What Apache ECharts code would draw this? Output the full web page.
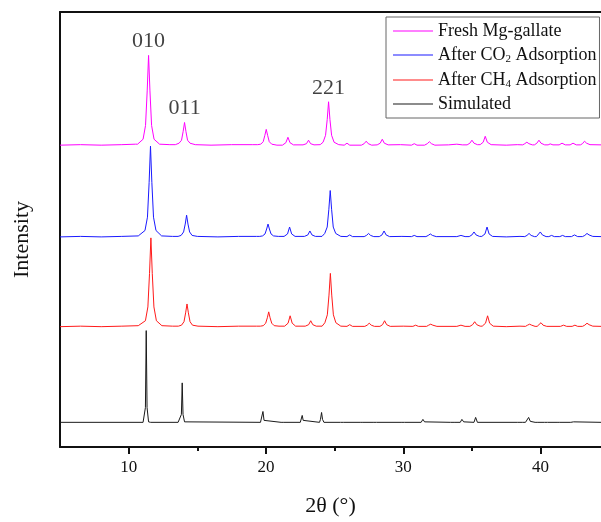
<!DOCTYPE html>
<html>
<head>
<meta charset="utf-8">
<script src="https://cdn.jsdelivr.net/npm/echarts@6/dist/echarts.min.js"></script>
<style>
  html, body { margin: 0; padding: 0; background: #fff; }
  #chart { width: 601px; height: 522px; }
</style>
</head>
<body>
<div id="chart"></div>
<script>
// XRD patterns, [2θ (°), intensity (a.u., stacked offsets included)]
const freshMgGallate = [
  [5,306],[6.5,306.5],[8,306],[9.5,306.5],[10.5,307],
  [10.65,307],[11.05,312],[11.23,326],[11.35,361],[11.45,397],[11.55,361],[11.67,326],[11.85,312],[12.25,307],
  [13.0,306.5],
  [13.4,306.5],[13.67,308],[13.85,311],[13.97,320],[14.07,329],[14.17,320],[14.29,311],[14.47,308],[14.85,306.5],
  [16,306],[17.5,306.5],[19,306.5],
  [19.4,306.5],[19.62,307],[19.8,309.5],[19.92,316],[20.02,322],[20.12,316],[20.24,309.5],[20.42,307],[20.8,306],
  [21.2,306],[21.45,308.5],[21.6,314],[21.75,308.5],[22.0,306.3],
  [22.7,306.3],[22.95,307.5],[23.1,311],[23.25,307.5],[23.5,306.3],
  [23.95,306.5],[24.16,309],[24.34,316],[24.46,332],[24.56,350],[24.66,332],[24.78,316],[24.96,309],[25.3,306.5],
  [25.7,306],[25.9,308],[26.1,306],
  [26.95,306],[27.15,307.5],[27.3,310],[27.45,307.5],[27.7,306],
  [28.1,306.3],[28.32,308],[28.47,312],[28.62,308],[28.9,306.3],
  [29.8,306.5],
  [30.6,306],[30.8,307.5],[31.0,306],
  [31.55,306],[31.75,307.5],[31.9,309.5],[32.05,307.5],[32.3,306],
  [33.3,306.3],[33.9,307],[34.3,306.3],
  [34.65,306.3],[34.85,308],[35.0,311],[35.15,308],[35.4,306.5],
  [35.6,306.5],[35.82,309],[35.97,315],[36.12,309],[36.4,306.5],
  [37.5,306],[38.3,306.5],
  [38.7,306.3],[38.85,307.5],[39.0,309],[39.15,307.5],[39.4,306.3],
  [39.55,306.3],[39.73,308],[39.88,311],[40.03,308],[40.3,306.3],
  [40.55,306.3],[40.7,307.3],[40.9,306.3],
  [41.35,306.3],[41.56,308],[41.8,306.3],
  [42.15,306.3],[42.36,308],[42.6,306.3],
  [42.9,306.3],[43.05,307.5],[43.2,310],[43.35,308],[43.6,306.5],
  [44.4,306.3]
];

const afterCO2 = [
  [5,213],[6.5,213.5],[8,213],[9.5,213.5],[10.7,214],
  [10.8,214],[11.19,219.5],[11.37,233],[11.49,268],[11.59,305],[11.69,268],[11.81,233],[11.99,219.5],[12.4,214],
  [13.2,213.5],
  [13.6,213.5],[13.82,214.5],[14.0,218],[14.12,226],[14.22,235],[14.32,226],[14.44,218],[14.62,214.5],[15.0,213.5],
  [16.5,213],[18,213.5],[19.3,213.5],
  [19.55,213.5],[19.75,214],[19.93,216],[20.05,221],[20.15,226],[20.25,221],[20.37,216],[20.55,214],[20.9,213.5],
  [21.32,213.5],[21.57,216],[21.72,223],[21.87,216],[22.12,213.5],
  [22.8,213.5],[23.05,215],[23.2,219],[23.35,215],[23.6,213.5],
  [24.08,213.5],[24.28,216.5],[24.46,223],[24.58,241],[24.68,260],[24.78,241],[24.9,223],[25.08,216.5],[25.45,213.5],
  [25.9,213.3],[26.1,215],[26.3,213.3],
  [27.15,213.3],[27.32,214.5],[27.47,216.5],[27.62,214.5],[27.85,213.3],
  [28.25,213.3],[28.45,215],[28.6,219],[28.75,215],[29.0,213.3],
  [29.9,213.5],
  [30.6,213.3],[30.8,214.5],[31.0,213.3],
  [31.65,213.3],[31.82,214.5],[31.97,216],[32.12,214.5],[32.4,213.3],
  [33.9,213.3],[34.2,214.5],[34.5,213.3],
  [34.8,213.3],[35.0,215],[35.15,218],[35.3,215],[35.55,213.5],
  [35.72,213.5],[35.95,216],[36.1,223],[36.25,216],[36.5,213.5],
  [37.5,213],[38.5,213.5],
  [38.85,213.3],[39.01,214.5],[39.16,216.5],[39.31,214.5],[39.55,213.3],
  [39.7,213.3],[39.84,215],[39.98,218],[40.13,215],[40.4,213.3],
  [40.6,213.3],[40.8,214.5],[41.0,213.3],
  [41.4,213.3],[41.6,214.5],[41.8,213.3],
  [42.25,213.3],[42.47,215],[42.7,213.3],
  [43.05,213.3],[43.22,214.5],[43.38,216.5],[43.53,215],[43.8,213.5],
  [44.4,213.3]
];

const afterCH4 = [
  [5,122],[6.5,122.5],[8,122],[9.5,122.5],[10.7,123],
  [10.82,123],[11.22,128],[11.4,142],[11.52,176],[11.62,212],[11.72,176],[11.84,142],[12.02,128],[12.42,123],
  [13.2,122.5],
  [13.62,122.5],[13.85,123.5],[14.03,127],[14.15,136],[14.25,145],[14.35,136],[14.47,127],[14.65,123.5],[15.05,122.5],
  [16.5,122],[18,122.5],[19.3,122.5],
  [19.6,122.5],[19.8,123],[19.98,125.5],[20.1,131],[20.2,137],[20.3,131],[20.42,125.5],[20.6,123],[20.95,122.5],
  [21.36,122.5],[21.61,125.5],[21.76,133],[21.91,125.5],[22.16,122.5],
  [22.86,122.5],[23.11,124],[23.26,128],[23.41,124],[23.66,122.5],
  [24.09,122.5],[24.29,126],[24.47,134],[24.59,154],[24.69,176],[24.79,154],[24.91,134],[25.09,126],[25.45,122.5],
  [25.9,122.3],[26.1,124],[26.3,122.3],
  [27.2,122.3],[27.37,123.5],[27.52,125.5],[27.67,123.5],[27.9,122.3],
  [28.3,122.3],[28.49,124],[28.64,128],[28.79,124],[29.05,122.3],
  [30.0,122.5],
  [30.7,122.3],[30.9,123.5],[31.1,122.3],
  [31.7,122.3],[31.85,123.5],[32.0,124.5],[32.15,123.5],[32.45,122.3],
  [33.9,122.3],[34.2,123.5],[34.5,122.3],
  [34.85,122.3],[35.05,124],[35.2,127],[35.35,124],[35.6,122.5],
  [35.75,122.5],[35.99,125.5],[36.14,133],[36.29,125.5],[36.55,122.5],
  [37.5,122],[38.5,122.5],
  [38.9,122.3],[39.05,123.5],[39.2,124.5],[39.35,123.5],[39.6,122.3],
  [39.75,122.3],[39.88,123.5],[40.03,126],[40.18,123.5],[40.45,122.3],
  [41.45,122.3],[41.67,123.5],[41.9,122.3],
  [42.3,122.3],[42.5,123.5],[42.7,122.3],
  [43.05,122.3],[43.22,123.5],[43.38,125.5],[43.53,124],[43.8,122.5],
  [44.4,122.3]
];

const simulated = [
  [5,25],[11.05,25],
  [11.12,25.5],[11.22,40],[11.28,118],[11.34,40],[11.45,25.5],[11.6,25],
  [13.6,25],
  [13.74,25.5],[13.84,33],[13.9,65],[13.96,33],[14.07,25.5],[14.2,25],
  [19.6,25],[19.7,27],[19.78,36],[19.86,27],[19.96,25],
  [21.1,25],[21.2,26],[21.3,25],
  [22.5,25],[22.57,27],[22.64,32],[22.71,27],[22.8,25],
  [23.9,25],[23.97,28],[24.05,35],[24.12,28],[24.22,25],
  [25.43,25],[25.53,27],[25.63,25],
  [26.86,25],[26.96,26],[27.06,25],
  [27.86,25],[27.96,27],[28.06,25],
  [29.9,25],[30.0,26],[30.1,25],
  [31.3,25],[31.43,28],[31.55,25.5],[31.6,25],
  [33.45,25],[33.57,27],[33.7,25],
  [34.15,25],[34.27,28],[34.4,25.5],
  [35.15,25],[35.27,30],[35.4,25],
  [38.3,25],[38.4,26],[38.5,25],[38.7,25],[38.8,26],[38.9,25],
  [39.03,25],[39.13,30],[39.25,26],[39.35,25],
  [39.6,25],[39.7,26.5],[39.8,25],
  [40.3,25],[40.4,26.5],[40.5,25],
  [41.2,25],[41.3,26],[41.4,25],
  [42.2,25],[42.29,27],[42.4,25.5],
  [44.4,25]
];

// Miller indices marked on the fresh-sample pattern: [label, 2θ]
const reflections = [['010', 11.45], ['011', 14.07], ['221', 24.56]];

const seriesNames = ['Fresh Mg-gallate', 'After CO2 Adsorption', 'After CH4 Adsorption', 'Simulated'];
const seriesColors = ['#ff00ff', '#1a1aff', '#ff1a1a', '#1a1a1a'];
const seriesData = [freshMgGallate, afterCO2, afterCH4, simulated];

const xMin = 5, xMax = 44.4;
const majorTicks = [10, 20, 30, 40];
const minorTicks = [15, 25, 35];

const FONT = '"Liberation Serif", "Times New Roman", serif';

const chart = echarts.init(document.getElementById('chart'), null, { renderer: 'canvas' });

const reflectionPoints = reflections.map(([label, x]) => {
  const pt = freshMgGallate.find(p => p[0] === x);
  return { value: [x, pt[1]], name: label };
});

const lineSeries = seriesNames.map((name, i) => ({
  name,
  type: 'line',
  data: seriesData[i],
  symbol: 'none',
  smooth: false,
  lineStyle: { color: seriesColors[i], width: 1 },
  itemStyle: { color: seriesColors[i] },
  emphasis: { disabled: true },
  animation: false,
  z: 3
}));

const option = {
  animation: false,
  backgroundColor: '#fff',
  grid: { left: 60, right: 0, top: 12, bottom: 69, containLabel: false },
  legend: {
    data: seriesNames,
    orient: 'vertical',
    left: 386,
    top: 17,
    padding: [5, 3, 5, 7],
    itemGap: 5,
    itemWidth: 40,
    itemHeight: 1,
    icon: 'rect',
    borderColor: '#666',
    borderWidth: 1,
    backgroundColor: '#fff',
    formatter: name => name.replace(/(CO|CH)(\d)/, '$1{sub|$2}'),
    textStyle: {
      fontFamily: FONT,
      fontSize: 18,
      color: '#111',
      lineHeight: 18,
      rich: {
        sub: { fontFamily: FONT, fontSize: 11, lineHeight: 11, padding: [9, 0, 0, 0], color: '#111' }
      }
    }
  },
  xAxis: [
    {
      type: 'value',
      min: xMin,
      max: xMax,
      position: 'bottom',
      name: '2θ (°)',
      nameLocation: 'middle',
      nameGap: 48,
      nameTextStyle: { fontFamily: FONT, fontSize: 22, color: '#111' },
      axisLine: { show: true, onZero: false, lineStyle: { color: '#111', width: 2 } },
      axisTick: {
        show: true, length: 7, lineStyle: { color: '#111', width: 2 },
        customValues: majorTicks
      },
      axisLabel: {
        show: true, margin: 12, fontFamily: FONT, fontSize: 17, color: '#111',
        customValues: majorTicks
      },
      splitLine: { show: false }
    },
    {
      // minor ticks at 15, 25, 35
      type: 'value',
      min: xMin,
      max: xMax,
      position: 'bottom',
      axisLine: { show: false, onZero: false },
      axisTick: {
        show: true, length: 4, lineStyle: { color: '#111', width: 2 },
        customValues: minorTicks
      },
      axisLabel: { show: false },
      splitLine: { show: false }
    },
    {
      // top frame line
      type: 'value',
      min: xMin,
      max: xMax,
      position: 'top',
      axisLine: { show: true, onZero: false, lineStyle: { color: '#111', width: 2 } },
      axisTick: { show: false },
      axisLabel: { show: false },
      splitLine: { show: false }
    }
  ],
  yAxis: {
    type: 'value',
    min: 0,
    max: 441,
    name: 'Intensity',
    nameLocation: 'middle',
    nameGap: 27,
    nameTextStyle: { fontFamily: FONT, fontSize: 22, color: '#111', padding: [0, 20, 0, 0] },
    axisLine: { show: true, onZero: false, lineStyle: { color: '#111', width: 2 } },
    axisTick: { show: false },
    axisLabel: { show: false },
    splitLine: { show: false }
  },
  series: [
    ...lineSeries,
    {
      name: 'reflections',
      type: 'scatter',
      data: reflectionPoints,
      symbolSize: 0,
      silent: true,
      label: {
        show: true,
        position: 'top',
        distance: 3,
        formatter: p => p.name,
        fontFamily: FONT,
        fontSize: 22,
        color: '#111'
      },
      z: 4
    }
  ]
};

chart.setOption(option);
</script>
</body>
</html>
